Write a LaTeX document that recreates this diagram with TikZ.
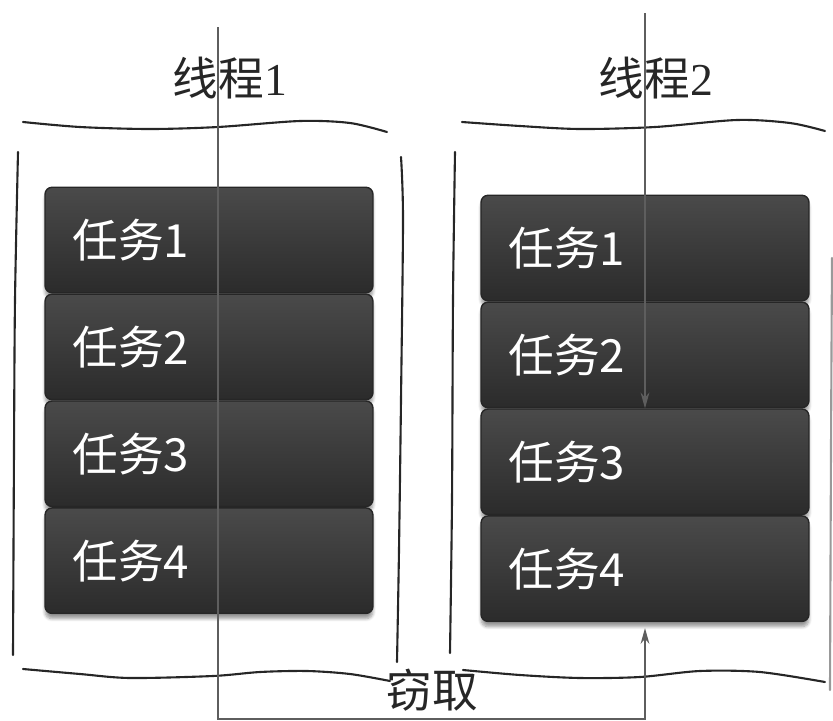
\documentclass[tikz,border=0pt]{standalone}
\usepackage{fontspec}
\usepackage{tikz}
\usetikzlibrary{arrows.meta,positioning,shadows.blur}
\newfontfamily\cjk{Noto Sans CJK SC}
\newfontfamily\serifdigits{Liberation Serif}
\definecolor{boxtop}{HTML}{4A4A4A}
\definecolor{boxbot}{HTML}{2B2B2B}
\definecolor{link}{HTML}{5E5E5E}

\begin{document}
\begin{tikzpicture}[x=0.02cm,y=-0.02cm,font=\cjk\fontsize{26}{30}\selectfont,node distance=0pt,
  task/.style={draw=black!85,line width=0.8pt,rounded corners=4pt,top color=boxtop,bottom color=boxbot,text=white,
    minimum width=6.56cm,minimum height=2.11cm,text width=5.46cm,inner xsep=0.55cm,align=left,
    blur shadow={shadow xshift=0pt,shadow yshift=-3pt,shadow blur steps=6}},
  title/.style={text=black!85,inner sep=1pt},
  wave/.style={line width=1.2pt,black!85,line cap=round},
  arr/.style={-{Stealth[length=9pt,width=5pt]},line width=1pt,link}]
\useasboundingbox (0,0) rectangle (833,721);
% hand drawn frames
\draw[wave] plot[smooth] coordinates {(23,122) (80,127) (150,129) (218,127) (300,121) (350,123) (387,132)};
\draw[wave] plot[smooth] coordinates {(462,122) (520,126) (580,129) (655,127) (737,120) (790,123) (825,131)};
\draw[wave] plot[smooth] coordinates {(23,669) (80,674) (130,678) (213,676) (260,672) (307,671) (350,674) (390,681)};
\draw[wave] plot[smooth] coordinates {(463,670) (520,675) (580,678) (640,677) (700,671) (760,672) (825,682)};
\draw[wave] plot[smooth] coordinates {(18,152) (15,300) (14,450) (13,655)};
\draw[wave] plot[smooth] coordinates {(401,157) (403,220) (401,400) (399,550) (397,662)};
\draw[wave] plot[smooth] coordinates {(455,152) (453,300) (452,500) (450,653)};
\draw[wave,black!40] plot[smooth] coordinates {(832,258) (831,450) (830,690)};
% titles
\node[title] (th1) at (230,78) {线程\serifdigits 1};
\node[title] (th2) at (656,78) {线程\serifdigits 2};
\node[title] (steal) at (432,690) {窃取};
% queues
\node[task] (t11) at (209,240) {任务1};
\node[task,below=of t11] (t12) {任务2};
\node[task,below=of t12] (t13) {任务3};
\node[task,below=of t13] (t14) {任务4};
\node[task] (t21) at (645,248) {任务1};
\node[task,below=of t21] (t22) {任务2};
\node[task,below=of t22] (t23) {任务3};
\node[task,below=of t23] (t24) {任务4};
% links
\coordinate (s1) at (218,27);
\coordinate (e1) at (218,719);
\coordinate (s2) at (645,13);
\draw[arr,shorten >=1.2mm] (s1) -- (e1) -| (t24.south);
\draw[arr] (s2) -- (t22.south);
\end{tikzpicture}
\end{document}
